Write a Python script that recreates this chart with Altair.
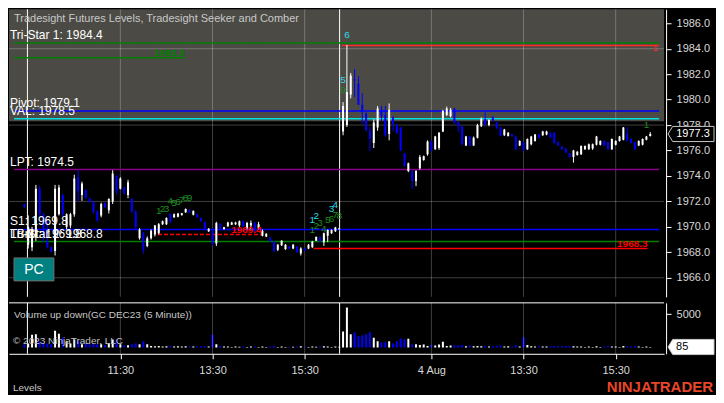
import altair as alt
import pandas as pd

# ---------------- data ----------------
opens = [1971.8, 1968.6, 1968.4, 1969.2, 1973.0, 1971.0, 1968.9, 1968.4, 1968.1, 1971.0,
         1972.5, 1970.0, 1970.1, 1971.0, 1973.9, 1972.5, 1972.9, 1972.25, 1971.95, 1971.2,
         1970.9, 1971.85, 1971.3, 1972.0, 1974.0, 1973.0, 1973.1, 1972.5, 1972.2, 1971.2,
         1969.1, 1969.5, 1968.5, 1969.1, 1969.4, 1969.5, 1970.2, 1970.2, 1971.0, 1970.75,
         1970.8, 1970.92, 1971.15, 1971.35, 1970.95, 1971.0, 1970.7, 1970.4, 1969.65, 1969.85,
         1968.7, 1970.25, 1969.82, 1970.05, 1970.17, 1970.2, 1970.1, 1970.45, 1969.9, 1970.1,
         1970.3, 1969.85, 1969.3, 1969.25, 1969.15, 1968.85, 1968.2, 1968.55, 1968.25, 1968.45,
         1968.3, 1968.45, 1967.9, 1968.3, 1968.3, 1968.4, 1968.9, 1969.2, 1968.8, 1969.3,
         1969.5, 1969.65, 1969.8, 1977.5, 1978.0, 1980.4, 1981.6, 1981.25, 1979.6, 1978.9,
         1977.55, 1976.6, 1977.8, 1979.2, 1978.8, 1977.3, 1978.6, 1978.0, 1977.8, 1975.8,
         1974.4, 1974.4, 1973.6, 1974.6, 1975.25, 1975.7, 1976.7, 1976.1, 1976.2, 1977.5,
         1978.8, 1978.7, 1979.3, 1978.25, 1977.9, 1976.4, 1977.1, 1976.4, 1977.0, 1977.9,
         1978.45, 1978.0, 1978.6, 1978.2, 1977.8, 1977.2, 1977.15, 1977.3, 1977.1, 1976.4,
         1976.65, 1976.1, 1976.5, 1976.75, 1977.25, 1977.2, 1977.25, 1977.4, 1977.4, 1976.65,
         1976.3, 1976.15, 1975.8, 1975.5, 1975.65, 1975.7, 1976.1, 1976.1, 1976.15, 1976.45,
         1976.45, 1976.75, 1976.65, 1976.1, 1976.45, 1976.75, 1976.85, 1977.3, 1976.9, 1976.65,
         1976.4, 1976.45, 1976.85, 1977.15]
highs = [1971.8, 1970.9, 1970.0, 1973.3, 1973.2, 1971.1, 1970.5, 1968.45, 1973.3, 1973.3,
         1972.6, 1971.05, 1971.1, 1974.1, 1974.45, 1973.55, 1972.95, 1972.3, 1972.05, 1971.3,
         1971.9, 1971.9, 1972.25, 1974.45, 1974.1, 1973.9, 1973.15, 1973.7, 1972.25, 1971.3,
         1969.9, 1969.6, 1969.25, 1969.8, 1970.15, 1970.3, 1970.5, 1970.75, 1971.1, 1971.05,
         1971.1, 1971.1, 1971.45, 1971.35, 1971.3, 1971.05, 1970.75, 1970.4, 1969.9, 1969.9,
         1970.4, 1970.3, 1970.0, 1970.4, 1970.4, 1970.4, 1970.5, 1970.5, 1970.4, 1970.5,
         1970.4, 1970.4, 1969.8, 1969.5, 1969.2, 1968.9, 1968.65, 1968.95, 1968.65, 1968.5,
         1968.65, 1968.5, 1968.4, 1968.35, 1968.65, 1968.9, 1969.25, 1969.25, 1969.55, 1969.8,
         1969.8, 1970.0, 1969.9, 1979.8, 1984.3, 1982.1, 1982.4, 1981.85, 1980.5, 1979.0,
         1977.85, 1978.45, 1979.5, 1979.5, 1979.5, 1979.7, 1978.7, 1978.1, 1977.85, 1975.8,
         1975.05, 1974.45, 1974.45, 1975.65, 1975.6, 1976.8, 1976.8, 1977.15, 1977.45, 1979.2,
         1979.45, 1979.35, 1979.35, 1978.3, 1977.95, 1977.15, 1977.15, 1977.1, 1978.1, 1978.6,
         1979.0, 1978.45, 1978.7, 1978.25, 1977.85, 1977.7, 1977.45, 1977.3, 1977.15, 1976.8,
         1976.7, 1976.95, 1977.15, 1977.3, 1977.3, 1977.55, 1977.55, 1977.45, 1977.45, 1976.7,
         1976.35, 1976.2, 1975.8, 1976.05, 1975.95, 1976.4, 1976.4, 1976.55, 1976.55, 1977.15,
         1976.8, 1976.8, 1976.7, 1976.95, 1976.8, 1977.15, 1977.85, 1977.85, 1976.95, 1976.7,
         1976.8, 1976.95, 1977.15, 1977.45]
lows = [1971.5, 1968.3, 1968.1, 1968.9, 1970.8, 1968.8, 1968.3, 1968.0, 1967.75, 1970.9,
        1970.8, 1969.8, 1969.9, 1970.8, 1972.0, 1972.05, 1972.2, 1971.9, 1971.05, 1970.4,
        1970.75, 1971.5, 1971.05, 1971.8, 1972.55, 1972.95, 1972.55, 1972.25, 1971.1, 1969.8,
        1969.0, 1967.9, 1968.4, 1969.0, 1969.25, 1969.4, 1970.15, 1970.15, 1970.3, 1970.7,
        1970.75, 1970.9, 1971.1, 1971.1, 1970.9, 1970.7, 1970.4, 1969.8, 1969.6, 1968.5,
        1968.5, 1969.8, 1969.8, 1970.0, 1970.15, 1970.15, 1970.0, 1970.0, 1969.8, 1969.8,
        1969.6, 1969.8, 1969.25, 1969.2, 1968.8, 1968.0, 1968.1, 1968.5, 1968.2, 1968.25,
        1968.25, 1967.95, 1967.75, 1968.1, 1968.25, 1968.35, 1968.9, 1968.8, 1968.5, 1968.8,
        1969.45, 1969.6, 1969.8, 1977.2, 1977.85, 1980.1, 1980.2, 1979.6, 1978.1, 1977.5,
        1975.96, 1976.2, 1977.55, 1978.3, 1977.1, 1976.8, 1977.5, 1977.3, 1975.96, 1974.7,
        1974.3, 1973.0, 1973.2, 1974.5, 1975.2, 1975.6, 1975.96, 1976.05, 1976.05, 1977.45,
        1978.7, 1978.6, 1978.1, 1977.45, 1976.4, 1976.35, 1976.35, 1976.35, 1976.95, 1977.85,
        1977.9, 1977.9, 1978.3, 1977.7, 1977.1, 1977.15, 1977.1, 1977.1, 1976.05, 1976.35,
        1975.96, 1976.05, 1976.4, 1976.7, 1976.95, 1977.15, 1977.2, 1976.95, 1976.55, 1976.35,
        1976.05, 1975.8, 1975.45, 1975.05, 1975.6, 1975.65, 1976.05, 1976.05, 1976.05, 1976.4,
        1976.4, 1976.35, 1976.05, 1976.05, 1976.4, 1976.7, 1976.8, 1976.7, 1976.55, 1976.05,
        1976.35, 1976.4, 1976.8, 1977.1]
closes = [1971.55, 1970.0, 1969.8, 1973.0, 1971.0, 1969.2, 1968.4, 1968.05, 1973.0, 1973.1,
          1971.0, 1971.0, 1971.0, 1973.8, 1972.8, 1973.4, 1972.3, 1971.95, 1971.15, 1970.5,
          1971.8, 1971.55, 1972.2, 1974.2, 1972.8, 1973.8, 1972.65, 1973.5, 1971.2, 1970.0,
          1969.8, 1968.2, 1969.1, 1969.7, 1970.1, 1970.2, 1970.45, 1970.7, 1970.4, 1971.0,
          1971.05, 1971.08, 1971.4, 1971.15, 1971.25, 1970.75, 1970.45, 1969.85, 1969.85, 1968.7,
          1970.3, 1969.85, 1969.98, 1970.35, 1970.35, 1970.35, 1970.45, 1970.05, 1970.3, 1970.3,
          1969.7, 1970.2, 1969.7, 1969.45, 1968.85, 1968.1, 1968.6, 1968.9, 1968.6, 1968.3,
          1968.6, 1968.0, 1968.3, 1968.15, 1968.6, 1968.85, 1969.2, 1968.85, 1969.5, 1969.75,
          1969.75, 1969.95, 1969.9, 1979.5, 1980.6, 1981.9, 1981.5, 1979.6, 1979.0, 1977.6,
          1976.9, 1978.2, 1979.3, 1978.7, 1977.2, 1979.2, 1978.1, 1977.4, 1976.0, 1974.8,
          1975.0, 1973.6, 1974.4, 1975.5, 1975.55, 1976.7, 1976.0, 1977.1, 1977.4, 1979.1,
          1979.3, 1979.2, 1978.2, 1977.9, 1976.5, 1977.1, 1976.4, 1977.0, 1978.0, 1978.5,
          1978.1, 1978.4, 1978.35, 1977.75, 1977.15, 1977.65, 1977.4, 1977.12, 1976.1, 1976.75,
          1976.0, 1976.9, 1977.1, 1977.25, 1977.0, 1977.5, 1977.5, 1977.0, 1976.6, 1976.4,
          1976.1, 1975.85, 1975.5, 1976.0, 1975.9, 1976.35, 1976.35, 1976.5, 1976.5, 1977.1,
          1976.75, 1976.4, 1976.1, 1976.9, 1976.75, 1977.1, 1977.8, 1976.8, 1976.6, 1976.1,
          1976.75, 1976.9, 1977.1, 1977.3]
volumes = [450, 600, 1900, 2000, 950, 700, 600, 500, 2500, 2050,
           1450, 950, 600, 1200, 1050, 500, 700, 500, 700, 500,
           500, 400, 600, 1200, 1200, 500, 350, 350, 500, 600,
           500, 950, 500, 250, 200, 250, 150, 200, 250, 150,
           200, 150, 200, 150, 150, 200, 200, 250, 150, 1900,
           500, 250, 150, 150, 100, 150, 120, 150, 100, 150,
           150, 100, 150, 100, 150, 250, 100, 150, 100, 100,
           120, 150, 200, 100, 100, 150, 120, 150, 200, 150,
           100, 150, 120, 2400, 6000, 2000, 2250, 1700, 1800, 2000,
           2300, 1450, 950, 800, 800, 950, 600, 950, 1350, 1200,
           1300, 500, 500, 400, 450, 250, 400, 300, 450, 850,
           250, 300, 350, 300, 400, 200, 300, 200, 250, 200,
           250, 150, 200, 250, 300, 150, 200, 150, 350, 150,
           1550, 400, 200, 150, 200, 150, 150, 200, 250, 200,
           200, 250, 250, 200, 150, 150, 100, 150, 100, 200,
           100, 150, 200, 150, 150, 100, 250, 200, 150, 250,
           150, 100, 150, 85]

tick_pos = [25, 49, 73, 106, 130, 154]
tick_labels = ["11:30", "13:30", "15:30", "4 Aug", "13:30", "15:30"]
session_breaks = [0.8, 82.1]
price_ticks = [1966, 1968, 1970, 1972, 1974, 1976, 1978, 1980, 1982, 1984, 1986]
price_grid = [1966, 1972, 1978, 1984]
volume_ticks = [5000]

# horizontal level lines
level_price = [1984.45, 1984.25, 1983.3, 1979.1, 1978.5, 1974.5, 1969.8, 1968.85, 1969.4, 1968.3]
level_start = [-2.7, 82.7, -2.7, -2.7, -2.7, -2.7, -2.7, -2.7, 34.8, 75.3]
level_end = [165.3, 165.3, 41.8, 165.3, 165.3, 165.3, 165.3, 165.3, 61.8, 162.3]
level_color = ["#008000", "#ff2a2a", "#008000", "#0000ff", "#00e0e0", "#8b008b",
               "#0000ff", "#008000", "#ff0000", "#ff0000"]
level_style = ["solid"] * 8 + ["dash", "solid"]

# left-side level captions
label_text = ["Tri-Star 1: 1984.4", "Pivot: 1979.1", "VAL: 1978.5", "LPT: 1974.5",
              "S1: 1969.8", "Tri-Star 2: 1968.8", "LBrkr: 1969.8"]
label_price = [1984.45, 1979.1, 1978.5, 1974.5, 1969.8, 1968.85, 1968.85]

# value tags at the right end of short level segments
tag_text = ["1983.3", "1969.4", "1968.3"]
tag_k = [41.8, 61.8, 162.3]
tag_price = [1983.3, 1969.4, 1968.3]
tag_color = ["#008000", "#ff0000", "#ff0000"]

# Seeker / Comber counts
digit_text = ["1", "2", "3", "4", "5", "6", "7", "8", "9",
              "1", "2", "3", "4", "5", "6",
              "1", "2", "3", "4", "5", "6", "7", "8", "9", "1", "1"]
digit_k = [35, 36, 37, 38, 39, 40, 41, 42, 43,
           75, 76, 80, 81, 83, 84,
           75, 76, 77, 78, 79, 80, 81, 82, 83, 162, 164.3]
digit_price = [1971.21, 1971.4, 1971.4, 1972.0, 1971.9, 1971.96, 1972.1, 1972.23, 1972.23,
               1970.53, 1970.83, 1971.43, 1971.7, 1981.51, 1985.06,
               1969.74, 1970.04, 1970.34, 1969.81, 1970.57, 1970.6, 1970.91, 1970.87, 1980.75,
               1978.02, 1984.04]
digit_color = ["#1e8c1e"] * 9 + ["#30d8e8"] * 6 + ["#1e8c1e"] * 10 + ["#ff2a2a"]

region_low, region_high = 1978.3, 1987.1

# ---------------- layout ----------------
W, HP, HV = 656, 288, 51
FONT = "Liberation Sans"
xs = alt.Scale(domain=[-2.7, 165.3], nice=False, zero=False)
ps = alt.Scale(domain=[1964.5, 1987.1], nice=False, zero=False)
vs = alt.Scale(domain=[-930, 6680], nice=False, zero=False)

n = len(opens)
bars = pd.DataFrame({"k": list(range(n)), "o": opens, "h": highs, "l": lows,
                     "c": closes, "v": volumes, "z": [0] * n})
bars["col"] = ["#ffffff" if c >= o else "#0000ff" for o, c in zip(opens, closes)]

levels = pd.DataFrame({"p": level_price, "k1": level_start, "k2": level_end,
                       "col": level_color, "st": level_style})
labels = pd.DataFrame({"t": label_text, "p": label_price})
tags = pd.DataFrame({"t": tag_text, "k": tag_k, "p": tag_price, "col": tag_color})
digits = pd.DataFrame({"t": digit_text, "k": digit_k, "p": digit_price, "col": digit_color})

price_axis = alt.Axis(orient="right", values=price_ticks, format=".1f", title=None, grid=False,
                      domainColor="white", tickColor="white", tickSize=5, labelColor="#d8d8d8",
                      labelFont=FONT, labelFontSize=11, labelPadding=5, offset=2, labelFlush=False)
x_none = alt.Axis(title=None, labels=False, ticks=False, domain=False, grid=False)


def PY(field):
    return alt.Y(field, scale=ps, axis=price_axis)


def PX(field):
    return alt.X(field, scale=xs, axis=x_none)


region = alt.Chart(pd.DataFrame({"p1": [region_low], "p2": [region_high]})).mark_rect(
    color="#4b4a45").encode(x=alt.value(0), x2=alt.value(W), y=PY("p1:Q"), y2="p2:Q")

hgrid = alt.Chart(pd.DataFrame({"p": price_grid})).mark_rule(color="white", opacity=0.25).encode(
    y=PY("p:Q"), x=alt.value(0), x2=alt.value(W))
vgrid = alt.Chart(pd.DataFrame({"k": tick_pos})).mark_rule(color="white", opacity=0.25).encode(
    x=PX("k:Q"), y=alt.value(0), y2=alt.value(HP))
sess = alt.Chart(pd.DataFrame({"k": session_breaks})).mark_rule(color="white").encode(
    x=PX("k:Q"), y=alt.value(0), y2=alt.value(HP))

lvl = alt.Chart(levels).mark_rule(strokeWidth=1.5, clip=True).encode(
    x=PX("k1:Q"), x2="k2:Q", y=PY("p:Q"),
    color=alt.Color("col:N", scale=None),
    strokeDash=alt.StrokeDash("st:N", scale=alt.Scale(domain=["solid", "dash"],
                                                       range=[[1, 0], [4, 2]]), legend=None))

wick = alt.Chart(bars).mark_rule(strokeWidth=1, clip=True).encode(
    x=PX("k:Q"), y=PY("l:Q"), y2="h:Q", color=alt.Color("col:N", scale=None))
body = alt.Chart(bars).mark_bar(size=2, clip=True).encode(
    x=PX("k:Q"), y=PY("o:Q"), y2="c:Q", color=alt.Color("col:N", scale=None))

lab = alt.Chart(labels).mark_text(align="left", baseline="bottom", dy=-1, font=FONT,
                                  fontSize=12, color="white").encode(
    x=alt.value(1), y=PY("p:Q"), text="t:N")

tagtxt = alt.Chart(tags).mark_text(align="right", baseline="bottom", dy=0, font=FONT,
                                   fontSize=10, fontWeight="bold").encode(
    x=PX("k:Q"), y=PY("p:Q"), text="t:N", color=alt.Color("col:N", scale=None))

dig = alt.Chart(digits).mark_text(align="center", baseline="middle", font=FONT, fontSize=10).encode(
    x=PX("k:Q"), y=PY("p:Q"), text="t:N", color=alt.Color("col:N", scale=None))

title = alt.Chart(pd.DataFrame({"t": ["Tradesight Futures Levels, Tradesight Seeker and Comber"]})).mark_text(
    align="left", baseline="middle", font=FONT, fontSize=11, color="#c8c8c8").encode(
    x=alt.value(5), y=alt.value(10), text="t:N")

pcbox = alt.Chart(pd.DataFrame({"t": ["PC"]})).mark_rect(fill="#008080", stroke="#6e6e6e",
                                                        strokeWidth=1).encode(
    x=alt.value(5), x2=alt.value(45), y=alt.value(249), y2=alt.value(272))
pctext = alt.Chart(pd.DataFrame({"t": ["PC"]})).mark_text(
    align="center", baseline="middle", font=FONT, fontSize=14, color="white").encode(
    x=alt.value(25), y=alt.value(261), text="t:N")

TAG_SHAPE = "M -1 0 L -0.8 -0.33 L 1 -0.33 L 1 0.33 L -0.8 0.33 Z"
last = pd.DataFrame({"p": [closes[-1]], "t": [f"{closes[-1]:.1f}"]})
ptag = alt.Chart(last).mark_point(shape=TAG_SHAPE, size=2116, filled=True, fill="black",
                                  stroke="#c8c8c8", strokeWidth=1, opacity=1).encode(
    x=alt.value(W + 27), y=PY("p:Q"))
ptagtxt = alt.Chart(last).mark_text(align="center", baseline="middle", font=FONT, fontSize=11,
                                    color="white").encode(
    x=alt.value(W + 29), y=PY("p:Q"), text="t:N")

price = alt.layer(region, hgrid, vgrid, sess, lvl, wick, body, lab, tagtxt, dig, title,
                  pcbox, pctext, ptag, ptagtxt).properties(width=W, height=HP)

# ---------------- volume panel ----------------
expr = "".join(f"datum.value == {p} ? '{l}' : " for p, l in zip(tick_pos, tick_labels)) + "''"
x_axis = alt.Axis(values=tick_pos, labelExpr=expr, title=None, grid=False, domainColor="white",
                  tickColor="white", tickSize=5, labelColor="#d8d8d8", labelFont=FONT,
                  labelFontSize=11, labelPadding=6, labelFlush=False)
v_axis = alt.Axis(orient="right", values=volume_ticks, format="d", title=None, grid=False,
                  domainColor="white", tickColor="white", tickSize=5, labelColor="#d8d8d8",
                  labelFont=FONT, labelFontSize=11, labelPadding=5, offset=2)


def VX(field):
    return alt.X(field, scale=xs, axis=x_axis)


def VY(field):
    return alt.Y(field, scale=vs, axis=v_axis)


vbars = alt.Chart(bars).mark_bar(size=2, clip=True).encode(
    x=VX("k:Q"), y=VY("v:Q"), y2="z:Q", color=alt.Color("col:N", scale=None))
vgrid2 = alt.Chart(pd.DataFrame({"k": tick_pos})).mark_rule(color="white", opacity=0.25).encode(
    x=VX("k:Q"), y=alt.value(0), y2=alt.value(HV))
sess2 = alt.Chart(pd.DataFrame({"k": session_breaks})).mark_rule(color="white").encode(
    x=VX("k:Q"), y=alt.value(0), y2=alt.value(HV))
topline = alt.Chart(pd.DataFrame({"a": [0]})).mark_rule(color="white").encode(
    y=alt.value(0), x=alt.value(0), x2=alt.value(W))
vtitle = alt.Chart(pd.DataFrame({"t": ["Volume up down(GC DEC23 (5 Minute))"]})).mark_text(
    align="left", baseline="middle", font=FONT, fontSize=10, color="#c8c8c8").encode(
    x=alt.value(5), y=alt.value(12), text="t:N")
copy = alt.Chart(pd.DataFrame({"t": ["© 2023 NinjaTrader, LLC"]})).mark_text(
    align="left", baseline="middle", font=FONT, fontSize=10, color="#c0c0c0").encode(
    x=alt.value(4), y=alt.value(38), text="t:N")
lastv = pd.DataFrame({"v": [volumes[-1]], "t": [str(volumes[-1])]})
vtag = alt.Chart(lastv).mark_point(shape=TAG_SHAPE, size=2116, filled=True, fill="white",
                                   stroke="#c8c8c8", strokeWidth=1, opacity=1).encode(
    x=alt.value(W + 27), y=VY("v:Q"))
vtagtxt = alt.Chart(lastv).mark_text(align="left", baseline="middle", font=FONT, fontSize=11,
                                     color="black").encode(
    x=alt.value(W + 12), y=VY("v:Q"), text="t:N")
levels_txt = alt.Chart(pd.DataFrame({"t": ["Levels"]})).mark_text(
    align="left", baseline="middle", font=FONT, fontSize=10, color="#c8c8c8").encode(
    x=alt.value(4), y=alt.value(HV + 34), text="t:N")
brand = alt.Chart(pd.DataFrame({"t": ["NINJATRADER"]})).mark_text(
    align="right", baseline="middle", font=FONT, fontSize=15, fontWeight="bold",
    color="#e8462a").encode(x=alt.value(W + 49), y=alt.value(HV + 33), text="t:N")

volume = alt.layer(vbars, vgrid2, sess2, topline, vtitle, copy, vtag, vtagtxt,
                   levels_txt, brand).properties(width=W, height=HV)

chart = alt.vconcat(price, volume, spacing=4).properties(
    background="black", padding=0).configure_view(strokeWidth=0)

chart.save("out.html", embed_options={"renderer": "svg", "actions": False})
